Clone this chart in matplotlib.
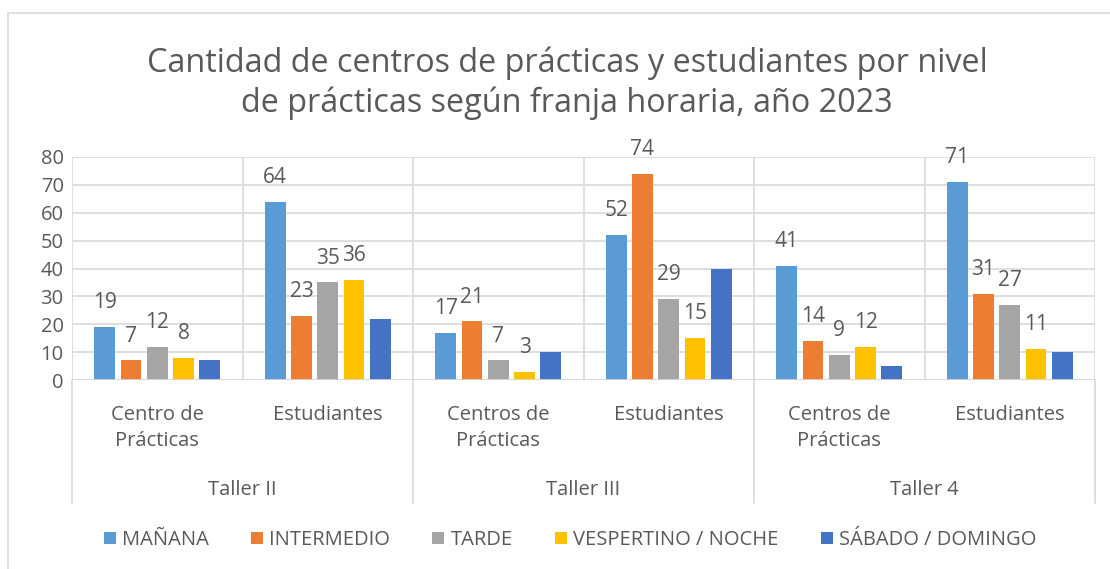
import matplotlib
matplotlib.use("Agg")
import matplotlib.pyplot as plt
import numpy as np
from matplotlib.patches import Rectangle

plt.rcParams['font.family'] = ['Open Sans', 'DejaVu Sans']

title = "Cantidad de centros de prácticas y estudiantes por nivel\nde prácticas según franja horaria, año 2023"
groups = ["Taller II", "Taller III", "Taller 4"]
subcats = ["Centro de\nPrácticas", "Estudiantes", "Centros de\nPrácticas", "Estudiantes",
           "Centros de\nPrácticas", "Estudiantes"]
series = ["MAÑANA", "INTERMEDIO", "TARDE", "VESPERTINO / NOCHE", "SÁBADO / DOMINGO"]
manana = [19, 64, 17, 52, 41, 71]
intermedio = [7, 23, 21, 74, 14, 31]
tarde = [12, 35, 7, 29, 9, 27]
vespertino = [8, 36, 3, 15, 12, 11]
sabado = [7, 22, 10, 40, 5, 10]
colors = ["#5B9BD5", "#ED7D31", "#A5A5A5", "#FFC000", "#4472C4"]
show_labels = [True, True, True, True, False]
yticks = [0, 10, 20, 30, 40, 50, 60, 70, 80]

W, H = 1110, 569
fig = plt.figure(figsize=(W / 100, H / 100), dpi=100)
txt = "#595959"
grid = "#D9D9D9"

# chart border
fig.patches.append(Rectangle((8 / W, -0.1), 1.2, 1 - 13 / H + 0.1, transform=fig.transFigure,
                             fill=False, edgecolor=grid, lw=1.2))

ax = fig.add_axes([72 / W, 1 - 380 / H, (1095 - 72) / W, (380 - 157) / H])
data = [manana, intermedio, tarde, vespertino, sabado]
n = len(series)
step = 0.154
bw = 0.123
x = np.arange(len(subcats)) + 0.5
for i, (vals, c, lab, show) in enumerate(zip(data, colors, series, show_labels)):
    pos = x + (i - (n - 1) / 2) * step
    bars = ax.bar(pos, vals, width=bw, color=c, label=lab, zorder=3)
    if show:
        ax.bar_label(bars, padding=10, fontsize=15, color=txt)

ax.set_xlim(0, len(subcats))
ax.set_ylim(0, 80)
ax.set_yticks(yticks)
ax.tick_params(axis='y', length=0, labelsize=14.5, labelcolor=txt, pad=6)
ax.set_xticks(np.arange(len(subcats) + 1))
ax.set_xticklabels([])
ax.tick_params(axis='x', length=0)
ax.grid(True, color=grid, lw=1.2, zorder=0)
for s in ax.spines.values():
    s.set_visible(False)
ax.axhline(0, color=grid, lw=1.2, zorder=4)

tr = ax.get_xaxis_transform()
for xi, lab in zip(x, subcats):
    ax.text(xi, -0.113, lab, transform=tr, ha='center', va='top', fontsize=14.5,
            color=txt, linespacing=1.4)
ymin_line = -(503 - 380) / (380 - 157)
for xb in [0, 2, 4, 6]:
    ax.plot([xb, xb], [0, ymin_line], transform=tr, color=grid, lw=1.2, clip_on=False)
for gi, g in enumerate(groups):
    ax.text(2 * gi + 1, -(490 - 380) / (380 - 157), g, transform=tr, ha='center',
            va='center', fontsize=14.5, color=txt)

fig.text(0.5 * (147 + 987) / W, 1 - 83 / H, title, ha='center', va='center',
         fontsize=23.3, color=txt, linespacing=1.25)

handles, labels = ax.get_legend_handles_labels()
leg = fig.legend(handles, labels, loc='center', bbox_to_anchor=(0.5 * (100 + 1040) / W, 1 - 540 / H),
                 ncol=5, frameon=False, fontsize=14.5, handlelength=0.6, handleheight=0.6,
                 handletextpad=0.3, columnspacing=2.1)
for t in leg.get_texts():
    t.set_color(txt)

fig.savefig("out.png", dpi=100)
